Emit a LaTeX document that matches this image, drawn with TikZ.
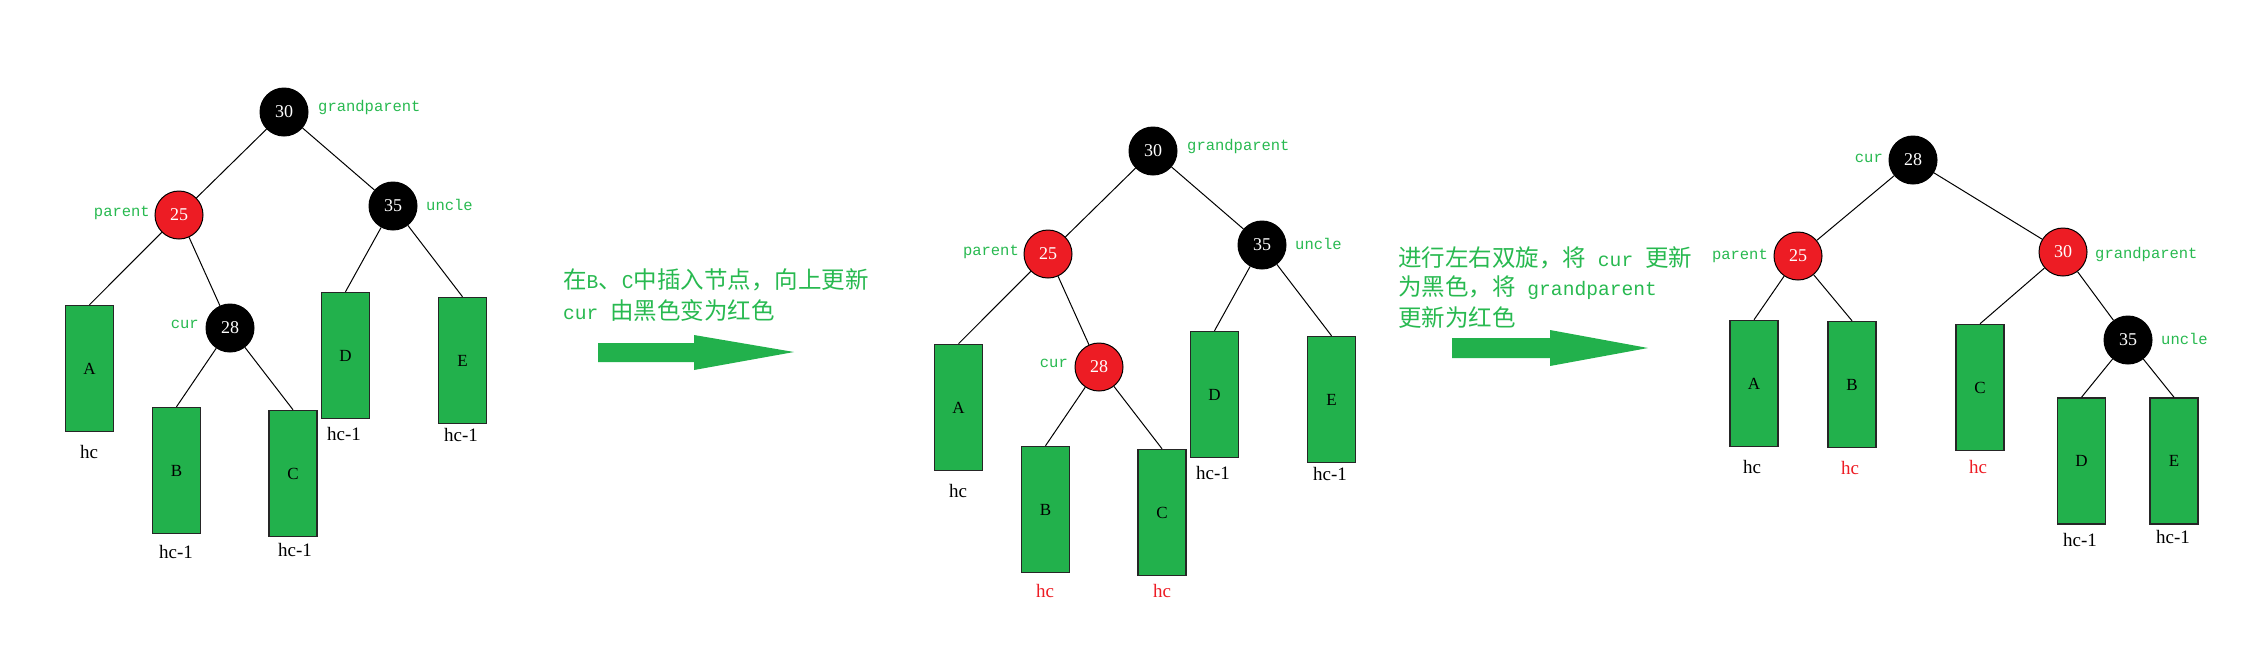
\documentclass[tikz,border=0pt]{standalone}
\usepackage{fontspec}
\setmainfont{Liberation Serif}
\setmonofont{Liberation Mono}
\newfontfamily\cjk{Noto Sans CJK SC}
\definecolor{boxgreen}{RGB}{34,177,76}
\definecolor{labgreen}{RGB}{40,185,80}
\definecolor{rbred}{RGB}{237,28,36}
\newcommand{\mm}[1]{{\ttfamily\fontsize{19.6}{20}\selectfont #1}}
\begin{document}
\begin{tikzpicture}[x=1pt,y=-1pt,
  rbnode/.style={circle,draw=black,line width=1pt,minimum size=48pt,inner sep=0pt,text=white,font=\fontsize{18}{18}\selectfont},
  blk/.style={rbnode,fill=black},
  redn/.style={rbnode,fill=rbred},
  sub/.style={draw=black!85,line width=1.5pt,fill=boxgreen,minimum width=48pt,minimum height=126pt,inner sep=0pt,font=\fontsize{17}{17}\selectfont},
  edge/.style={line width=1pt},
  hlab/.style={font=\fontsize{19}{19}\selectfont,inner sep=0pt},
  redlab/.style={hlab,text=rbred},
  glab/.style={text=labgreen,inner sep=0pt,font=\ttfamily\fontsize{15.5}{16}\selectfont},
  note/.style={text=labgreen,inner sep=0pt,anchor=west,font=\cjk\fontsize{23.5}{24}\selectfont},
  fatarrow/.style={fill=boxgreen}
]
\useasboundingbox (0,0) rectangle (2259,657);

% ---------- panel 1 ----------
\node[blk]  (a30) at (284,112) {30};
\node[redn] (a25) at (179,215) {25};
\node[blk]  (a35) at (393,206) {35};
\node[blk]  (a28) at (230,328) {28};
\node[sub] (aA) at (89.5,368.5) {A};
\node[sub] (aB) at (176.5,470.5) {B};
\node[sub] (aC) at (293,473.5) {C};
\node[sub] (aD) at (345.5,355.5) {D};
\node[sub] (aE) at (462.5,360.5) {E};
\draw[edge] (a30) -- (a25);
\draw[edge] (a30) -- (a35);
\draw[edge] (a25) -- (aA.north);
\draw[edge] (a25) -- (a28);
\draw[edge] (a28) -- (aB.north);
\draw[edge] (a28) -- (aC.north);
\draw[edge] (a35) -- (aD.north);
\draw[edge] (a35) -- (aE.north);
\node[hlab] (aAh) at (89,452) {hc};
\node[hlab] (aBh) at (176,552) {hc-1};
\node[hlab] (aCh) at (295,550) {hc-1};
\node[hlab] (aDh) at (344,434) {hc-1};
\node[hlab] (aEh) at (461,435) {hc-1};
\node[glab,anchor=west] (ag) at (318,107) {grandparent};
\node[glab,anchor=east] (ap) at (150,213) {parent};
\node[glab,anchor=west] (au) at (426,205) {uncle};
\node[glab,anchor=east] (ac) at (199,324) {cur};

% ---------- arrow 1 ----------
\node[note] (t1a) at (563,280) {在\mm{B}、\mm{C}中插入节点，向上更新};
\node[note] (t1b) at (563,311) {\mm{cur\ }由黑色变为红色};
\fill[fatarrow] (598,343) -- (694,343) -- (694,335) -- (794,352) -- (694,370) -- (694,362) -- (598,362) -- cycle;

% ---------- panel 2 ----------
\begin{scope}[shift={(869,39)}]
\node[blk]  (b30) at (284,112) {30};
\node[redn] (b25) at (179,215) {25};
\node[blk]  (b35) at (393,206) {35};
\node[redn] (b28) at (230,328) {28};
\node[sub] (bA) at (89.5,368.5) {A};
\node[sub] (bB) at (176.5,470.5) {B};
\node[sub] (bC) at (293,473.5) {C};
\node[sub] (bD) at (345.5,355.5) {D};
\node[sub] (bE) at (462.5,360.5) {E};
\draw[edge] (b30) -- (b25);
\draw[edge] (b30) -- (b35);
\draw[edge] (b25) -- (bA.north);
\draw[edge] (b25) -- (b28);
\draw[edge] (b28) -- (bB.north);
\draw[edge] (b28) -- (bC.north);
\draw[edge] (b35) -- (bD.north);
\draw[edge] (b35) -- (bE.north);
\node[hlab] (bAh) at (89,452) {hc};
\node[redlab] (bBh) at (176,552) {hc};
\node[redlab] (bCh) at (293,552) {hc};
\node[hlab] (bDh) at (344,434) {hc-1};
\node[hlab] (bEh) at (461,435) {hc-1};
\node[glab,anchor=west] (bg) at (318,107) {grandparent};
\node[glab,anchor=east] (bp) at (150,213) {parent};
\node[glab,anchor=west] (bu) at (426,205) {uncle};
\node[glab,anchor=east] (bc) at (199,324) {cur};
\end{scope}

% ---------- arrow 2 ----------
\node[note] (t2a) at (1398,258) {进行左右双旋，将\mm{\ cur\ }更新};
\node[note] (t2b) at (1398,288) {为黑色，将\mm{\ grandparent}};
\node[note] (t2c) at (1398,318) {更新为红色};
\fill[fatarrow] (1452,338) -- (1550,338) -- (1550,330) -- (1648,348) -- (1550,366) -- (1550,358) -- (1452,358) -- cycle;

% ---------- panel 3 ----------
\node[blk]  (c28) at (1913,160) {28};
\node[redn] (c25) at (1798,256) {25};
\node[redn] (c30) at (2063,252) {30};
\node[blk]  (c35) at (2128,340) {35};
\node[sub] (cA) at (1754,383.5) {A};
\node[sub] (cB) at (1852,384.5) {B};
\node[sub] (cC) at (1980,387.5) {C};
\node[sub] (cD) at (2081.5,461) {D};
\node[sub] (cE) at (2174,461) {E};
\draw[edge] (c28) -- (c25);
\draw[edge] (c28) -- (c30);
\draw[edge] (c25) -- (cA.north);
\draw[edge] (c25) -- (cB.north);
\draw[edge] (c30) -- (cC.north);
\draw[edge] (c30) -- (c35);
\draw[edge] (c35) -- (cD.north);
\draw[edge] (c35) -- (cE.north);
\node[hlab] (cAh) at (1752,467) {hc};
\node[redlab] (cBh) at (1850,468) {hc};
\node[redlab] (cCh) at (1978,467) {hc};
\node[hlab] (cDh) at (2080,540) {hc-1};
\node[hlab] (cEh) at (2173,537) {hc-1};
\node[glab,anchor=east] (cc) at (1883,158) {cur};
\node[glab,anchor=east] (cp) at (1768,256) {parent};
\node[glab,anchor=west] (cg) at (2095,254) {grandparent};
\node[glab,anchor=west] (cu) at (2161,339) {uncle};
\end{tikzpicture}
\end{document}
